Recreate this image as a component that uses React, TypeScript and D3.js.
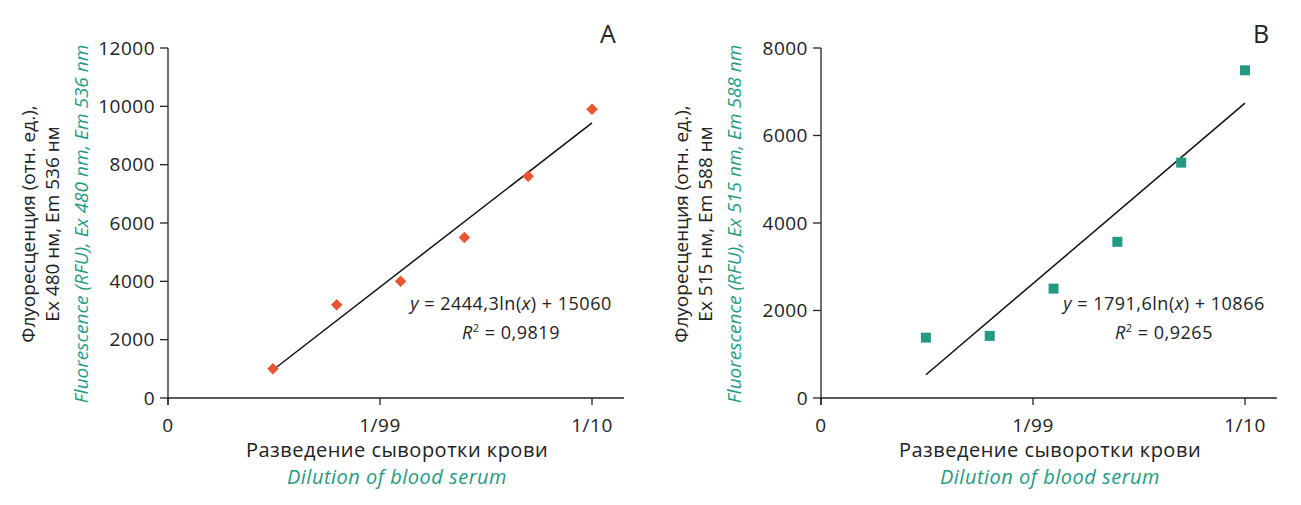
import React from 'react';
import * as d3 from 'd3';

// dilution denominators (1/320 ... 1/10)
const dilutions = [320, 160, 80, 40, 20, 10];
const fluorA = [1000, 3200, 4000, 5500, 7600, 9900];
const fluorB = [1380, 1420, 2500, 3570, 5380, 7490];

const xTickValues = [0.001, 0.01, 0.1];
const xTickLabels = ['0', '1/99', '1/10'];
const yTicksA = [0, 2000, 4000, 6000, 8000, 10000, 12000];
const yTicksB = [0, 2000, 4000, 6000, 8000];

const fitA = { a: 2444.3, b: 15060, aText: '2444,3', bText: '15060', r2: '0,9819' };
const fitB = { a: 1791.6, b: 10866, aText: '1791,6', bText: '10866', r2: '0,9265' };

const ORANGE = '#e8552f';
const TEAL = '#249a83';
const TEXT = '#222';
const FONT = '"Open Sans", sans-serif';

interface PanelProps {
    left: number;
    values: number[];
    yTicks: number[];
    fit: { a: number; b: number; aText: string; bText: string; r2: string };
    letter: string;
    marker: 'diamond' | 'square';
    color: string;
    ex: string;
    em: string;
}

const top = 48;
const bottom = 398;
const plotW = 424;
const axisExtra = 32;

const Panel: React.FC<PanelProps> = ({ left, values, yTicks, fit, letter, marker, color, ex, em }) => {
    const x = d3.scaleLog().domain([0.001, 0.1]).range([left, left + plotW]);
    const y = d3.scaleLinear().domain([0, d3.max(yTicks)!]).range([bottom, top]);

    const xs = dilutions.map(d => 1 / d);
    const fitLine = d3.line<number>()
        .x(v => x(v))
        .y(v => y(fit.a * Math.log(v) + fit.b));

    const sym = marker === 'diamond'
        ? d3.symbol(d3.symbolSquare, 66)()
        : d3.symbol(d3.symbolSquare, 100)();

    const cy = (top + bottom) / 2 + 1;
    const eqX = left + 343;
    const midX = left + 229;

    return (
        <g fontFamily={FONT} fill={TEXT}>
            {/* axes */}
            <line x1={left} x2={left} y1={top} y2={bottom + 7} stroke={TEXT} strokeWidth={1.3} />
            <line x1={left} x2={left + plotW + axisExtra} y1={bottom} y2={bottom} stroke={TEXT} strokeWidth={1.3} />
            {yTicks.map(t => (
                <g key={t}>
                    <line x1={left - 8} x2={left} y1={y(t)} y2={y(t)} stroke={TEXT} strokeWidth={1.3} />
                    <text x={left - 13} y={y(t)} dy="0.35em" textAnchor="end" fontSize={19} letterSpacing={0.5}>{t}</text>
                </g>
            ))}
            {xTickValues.map((t, i) => (
                <g key={t}>
                    <line x1={x(t)} x2={x(t)} y1={bottom} y2={bottom + 7} stroke={TEXT} strokeWidth={1.3} />
                    <text x={x(t)} y={bottom + 34} textAnchor="middle" fontSize={19} letterSpacing={0.5}>{xTickLabels[i]}</text>
                </g>
            ))}

            {/* trend line */}
            <path d={fitLine([xs[0], xs[xs.length - 1]]) || ''} stroke="#111" strokeWidth={1.5} fill="none" />

            {/* points */}
            {values.map((v, i) => (
                <path key={i} d={sym || ''} fill={color}
                    transform={`translate(${x(xs[i])},${y(v)})${marker === 'diamond' ? ' rotate(45)' : ''}`} />
            ))}

            {/* equation */}
            <text x={eqX} y={310} textAnchor="middle" fontSize={18} letterSpacing={0.5}>
                <tspan fontStyle="italic">y</tspan>{` = ${fit.aText}ln(`}<tspan fontStyle="italic">x</tspan>{`) + ${fit.bText}`}
            </text>
            <text x={eqX} y={339} textAnchor="middle" fontSize={18} letterSpacing={0.5}>
                <tspan fontStyle="italic">R</tspan><tspan fontSize={11} dy={-7}>2</tspan><tspan dy={7}>{` = ${fit.r2}`}</tspan>
            </text>

            {/* panel letter */}
            <text x={left + 440} y={43} textAnchor="middle" fontSize={25}>{letter}</text>

            {/* x title */}
            <text x={midX} y={457} textAnchor="middle" fontSize={20} letterSpacing={0.5}>Разведение сыворотки крови</text>
            <text x={midX} y={484} textAnchor="middle" fontSize={20} letterSpacing={0.5} fontStyle="italic" fill={TEAL}>Dilution of blood serum</text>

            {/* y title */}
            <g transform={`translate(${left - 133},${cy}) rotate(-90)`}>
                <text x={0} y={0} textAnchor="middle" fontSize={19}>Флуоресценция (отн. ед.),</text>
            </g>
            <g transform={`translate(${left - 109},${cy}) rotate(-90)`}>
                <text x={0} y={0} textAnchor="middle" fontSize={19}>{`Ex ${ex} нм, Em ${em} нм`}</text>
            </g>
            <g transform={`translate(${left - 80},${cy}) rotate(-90)`}>
                <text x={0} y={0} textAnchor="middle" fontSize={19} fontStyle="italic" fill={TEAL}>
                    {`Fluorescence (RFU), Ex ${ex} nm, Em ${em} nm`}
                </text>
            </g>
        </g>
    );
};

const App: React.FC = () => {
    return (
        <svg width={1285} height={489} viewBox="8 8 1285 489" style={{ display: 'block' }}>
            <rect x={0} y={0} width={1301} height={505} fill="#fff" />
            <Panel left={168} values={fluorA} yTicks={yTicksA} fit={fitA} letter="A"
                marker="diamond" color={ORANGE} ex="480" em="536" />
            <Panel left={821} values={fluorB} yTicks={yTicksB} fit={fitB} letter="B"
                marker="square" color={TEAL} ex="515" em="588" />
        </svg>
    );
};

export default App;
